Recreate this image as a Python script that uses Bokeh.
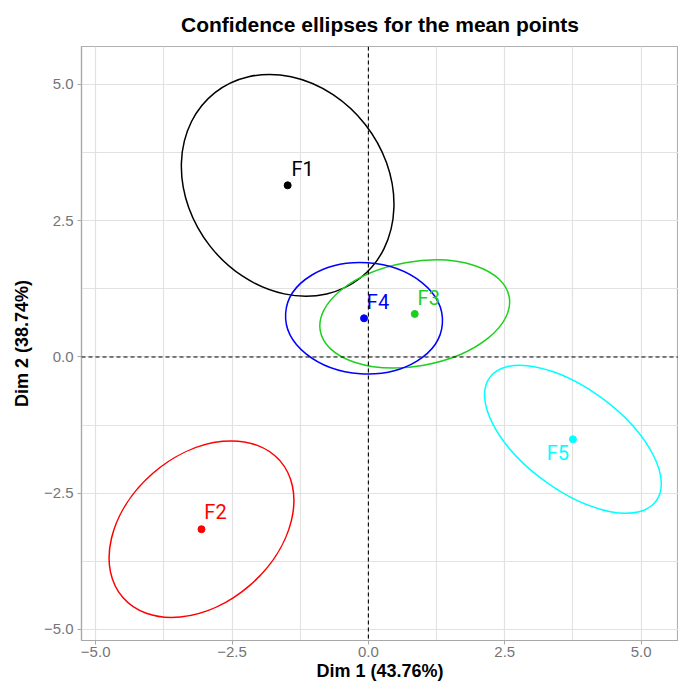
import numpy as np
from bokeh.plotting import figure
from bokeh.models import ColumnDataSource, FixedTicker, Span, Range1d
from bokeh.embed import file_html
from bokeh.resources import INLINE
from bokeh.core.properties import value

# ---- data ----
groups = ["F1", "F2", "F3", "F4", "F5"]
dim1 = [-1.48, -3.06, 0.85, -0.08, 3.75]
dim2 = [3.15, -3.16, 0.79, 0.71, -1.51]
# confidence ellipse parameters (semi-axes in data units, angle in degrees)
semi_major = [2.16, 1.91, 1.76, 1.44, 1.90]
semi_minor = [1.81, 1.36, 0.955, 1.02, 0.925]
angle_deg = [128.1, 41.0, 10.2, -3.7, 143.3]
colors = ["black", "red", "#1ED01E", "blue", "cyan"]

x_ticks = [-5.0, -2.5, 0.0, 2.5, 5.0]
y_ticks = [-5.0, -2.5, 0.0, 2.5, 5.0]
minor_ticks = [-3.75, -1.25, 1.25, 3.75]
x_label = "Dim 1 (43.76%)"
y_label = "Dim 2 (38.74%)"
title_text = "Confidence ellipses for the mean points"

def fmt(v):
    s = "%.1f" % abs(v)
    return ("\u2212" + s) if v < 0 else s

# label offsets (pixels) -- style
lab_dx = [15, 14, 14, 14, -15]
lab_dy = [-16, -17, -16, -16, 14]

src = ColumnDataSource(dict(
    x=dim1, y=dim2, name=groups, color=colors,
    w=[2 * a for a in semi_major], h=[2 * b for b in semi_minor],
    ang=[np.deg2rad(t) for t in angle_deg],
    dx=lab_dx, dy=lab_dy,
))

p = figure(
    width=678, height=684, output_backend="svg", toolbar_location=None,
    frame_width=597, frame_height=594,
    min_border_left=81, min_border_top=45, min_border_right=0, min_border_bottom=30,
    x_range=Range1d(-5.26, 5.686), y_range=Range1d(-5.202, 5.697),
    title=title_text,
)
p.background_fill_color = "white"
p.border_fill_color = "white"
p.outline_line_color = "#b0b0b0"
p.outline_line_width = 1.2

p.title.align = "center"
p.title.text_font = "Liberation Sans"
p.title.text_font_size = "21px"
p.title.text_font_style = "bold"
p.title.text_color = "black"
p.title.standoff = 21

for ax, ticks in ((p.xaxis[0], x_ticks), (p.yaxis[0], y_ticks)):
    ax.ticker = FixedTicker(ticks=ticks, minor_ticks=minor_ticks)
    ax.major_label_overrides = {t: fmt(t) for t in ticks}
    ax.major_label_text_font = "Liberation Sans"
    ax.major_label_text_font_size = "15px"
    ax.major_label_text_color = "#757575"
    ax.axis_line_color = "#a8a8a8"
    ax.axis_line_width = 1.2
    ax.major_tick_line_color = "#a8a8a8"
    ax.major_tick_in = 0
    ax.major_tick_out = 4
    ax.minor_tick_line_color = None
    ax.axis_label_text_font = "Liberation Sans"
    ax.axis_label_text_font_size = "18px"
    ax.axis_label_text_font_style = "bold"
    ax.axis_label_text_color = "black"

p.xaxis.axis_label = x_label
p.yaxis.axis_label = y_label
p.xaxis.major_label_standoff = 2
p.xaxis.axis_label_standoff = 1
p.yaxis.major_label_standoff = 4
p.yaxis.axis_label_standoff = 9

for g in (p.xgrid[0], p.ygrid[0]):
    g.grid_line_color = "#e2e2e2"
    g.grid_line_width = 1.2
    g.minor_grid_line_color = "#e2e2e2"
    g.minor_grid_line_width = 1.2

p.add_layout(Span(location=0, dimension="height", line_color="black",
                  line_dash="4 3", line_width=1.1))
p.add_layout(Span(location=0, dimension="width", line_color="black",
                  line_dash="4 3", line_width=1.1))

p.ellipse(x="x", y="y", width="w", height="h", angle="ang", source=src,
          fill_color=None, line_color="color", line_width=1.5)
p.scatter(x="x", y="y", source=src, size=7, fill_color="color", line_color="color")
p.text(x="x", y="y", text="name", source=src, text_color="color",
       x_offset="dx", y_offset="dy", text_align="center", text_baseline="middle",
       text_font=value("Roboto"), text_font_size="20px")

open("out.html", "w").write(file_html(p, INLINE))
